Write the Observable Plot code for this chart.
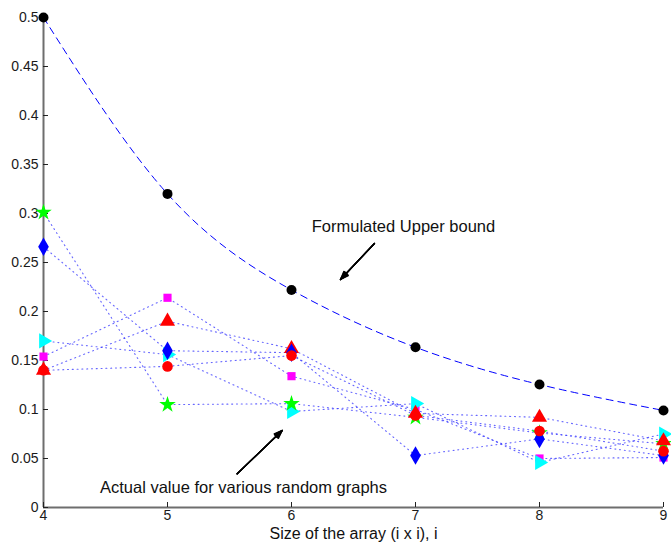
<!DOCTYPE html>
<html><head><meta charset="utf-8">
<script src="https://cdn.jsdelivr.net/npm/d3@7"></script>
<script src="https://cdn.jsdelivr.net/npm/@observablehq/plot@0.6"></script>
<style>
body{margin:0;background:#fff;}
#chart svg{display:block;}
</style></head><body><div id="chart"></div>
<script>
// ---- data ----
const sizes = [4, 5, 6, 7, 8, 9];
const upperBound    = [0.500, 0.320, 0.222, 0.1635, 0.1255, 0.099];
const starGreen     = [0.301, 0.105, 0.106, 0.092, 0.076, 0.065];
const diamondBlue   = [0.266, 0.160, 0.158, 0.053, 0.070, 0.053];
const squareMagenta = [0.154, 0.214, 0.134, 0.100, 0.050, 0.051];
const triangleRed   = [0.140, 0.190, 0.162, 0.096, 0.092, 0.068];
const triRightCyan  = [0.170, 0.156, 0.098, 0.106, 0.046, 0.075];
const circleRed     = [0.140, 0.144, 0.155, 0.094, 0.078, 0.0575];
const yTicks = [0, 0.05, 0.1, 0.15, 0.2, 0.25, 0.3, 0.35, 0.4, 0.45, 0.5];
const xTicks = [4, 5, 6, 7, 8, 9];
const xLabel = "Size of the array (i x i), i";
const upperText = "Formulated Upper bound";
const actualText = "Actual value for various random graphs";

// series styling (drawing order = bottom to top)
const seriesStyle = [
  {name: "magenta", values: squareMagenta, symbol: "square",   fill: "#ff00ff", r: 4.6, rotate: 0},
  {name: "cyan",    values: triRightCyan,  symbol: "triangle", fill: "#00ffff", r: 5.6, rotate: 90},
  {name: "green",   values: starGreen,     symbol: "star",     fill: "#00ff00", r: 5.2, rotate: 0},
  {name: "redTri",  values: triangleRed,   symbol: "triangle", fill: "#ff0000", r: 5.6, rotate: 0},
  {name: "blue",    values: diamondBlue,   symbol: "diamond",  fill: "#0000ff", r: 5.6, rotate: 0},
  {name: "redCirc", values: circleRed,     symbol: "circle",   fill: "#ff0000", r: 5.3, rotate: 0}
];
const rowsOf = (vals) => sizes.map((x, i) => ({x, y: vals[i]}));
const upperRows = rowsOf(upperBound);

const font = "'Liberation Sans', Arial, Helvetica, sans-serif";

const marks = [];
// dotted connecting lines
for (const s of seriesStyle) {
  marks.push(Plot.line(rowsOf(s.values), {x: "x", y: "y", stroke: "#4040ff", strokeOpacity: 0.8, strokeWidth: 1.1, strokeDasharray: "1,3.8"}));
}
// dashed upper bound
marks.push(Plot.line(upperRows, {x: "x", y: "y", curve: "natural", stroke: "#0000ff", strokeWidth: 1, strokeDasharray: "7,5"}));
// axis lines
marks.push(Plot.ruleX([4], {stroke: "#6e6e6e", strokeWidth: 2}));
marks.push(Plot.ruleY([0], {stroke: "#6e6e6e", strokeWidth: 2}));
// inward ticks
marks.push(Plot.axisY({ticks: yTicks, tickSize: 5, dx: 5, text: null, stroke: "#222"}));
marks.push(Plot.axisX({ticks: xTicks, tickSize: 5, dy: -5, text: null, stroke: "#222"}));
// tick labels
marks.push(Plot.axisY({ticks: yTicks, tickSize: 0, tickPadding: 5, tickFormat: d3.format("~g"), fontSize: 14, label: null, fill: "#1a1a1a"}));
marks.push(Plot.axisX({ticks: xTicks, tickSize: 0, tickPadding: 3, tickFormat: d3.format("d"), fontSize: 14, label: null, fill: "#1a1a1a"}));
// markers
for (const s of seriesStyle) {
  marks.push(Plot.dot(rowsOf(s.values), {x: "x", y: "y", symbol: () => s.symbol, fill: s.fill, stroke: "none", r: s.r, rotate: s.rotate}));
}
marks.push(Plot.dot(upperRows, {x: "x", y: "y", fill: "black", r: 5}));
// annotations
const arrows = [
  {x1: 6.669, y1: 0.2694, x2: 6.395, y2: 0.2327},
  {x1: 5.562, y1: 0.0344, x2: 5.925, y2: 0.0786}
];
for (const a of [10, 18, 26, 34, 42]) {
  marks.push(Plot.arrow(arrows, {x1: "x1", y1: "y1", x2: "x2", y2: "y2", stroke: "black", strokeWidth: 1.3, headLength: 10, headAngle: a}));
}
marks.push(Plot.text([upperText], {x: 6.903, y: 0.2867, text: d => d, fontSize: 16.5, fill: "#111"}));
marks.push(Plot.text([actualText], {x: 5.613, y: 0.0204, text: d => d, fontSize: 16.5, fill: "#111"}));
marks.push(Plot.text([xLabel], {frameAnchor: "bottom", dy: 31.5, text: d => d, fontSize: 16, fill: "#111"}));

const chart = Plot.plot({
  width: 671, height: 546,
  marginTop: 17, marginRight: 8, marginBottom: 39, marginLeft: 43,
  style: {fontFamily: font, background: "#fff"},
  x: {domain: [4, 9], axis: null},
  y: {domain: [0, 0.5], axis: null},
  marks
});
document.getElementById("chart").appendChild(chart);
</script></body></html>
